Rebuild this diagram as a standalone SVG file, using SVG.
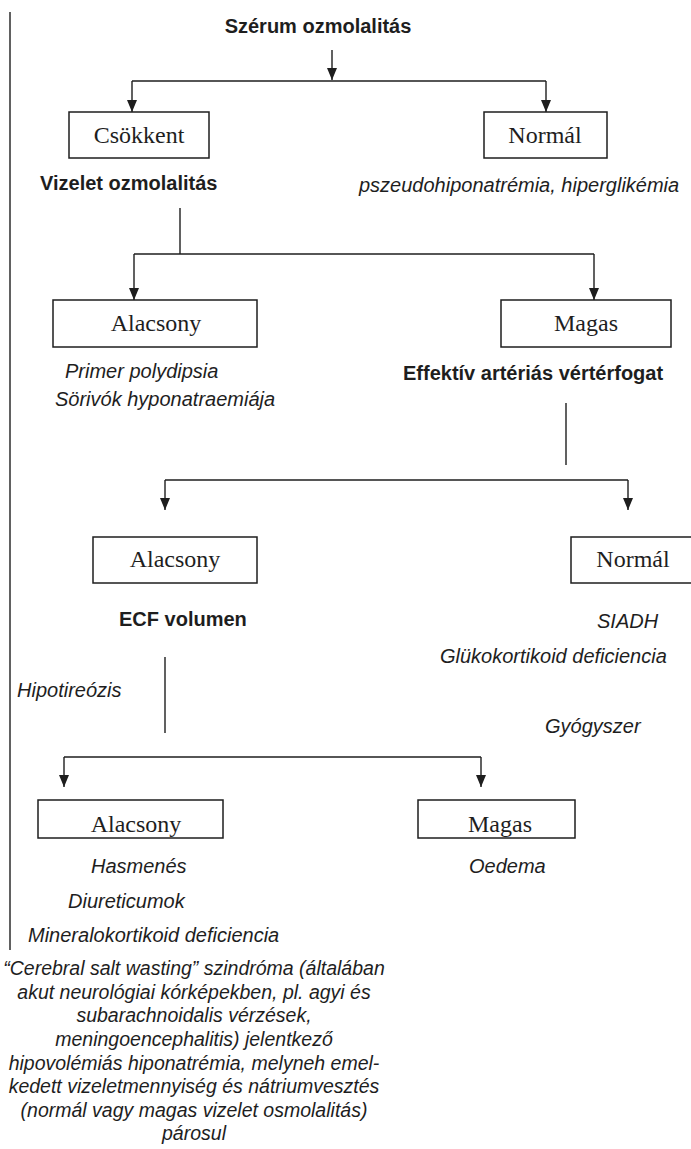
<svg xmlns="http://www.w3.org/2000/svg" width="691" height="1149" viewBox="0 0 691 1149">
<style>
.bg{fill:#ffffff}
.box{fill:#ffffff;stroke:#1e1e1e;stroke-width:1.5}
.ln{fill:none;stroke:#1e1e1e;stroke-width:1.4}
.bt{font-family:"Liberation Serif","Times New Roman",serif;font-size:24px;fill:#1e1e1e;text-anchor:middle}
.hd{font-family:"Liberation Sans",Arial,sans-serif;font-size:20px;font-weight:bold;fill:#1e1e1e}
.it{font-family:"Liberation Sans",Arial,sans-serif;font-size:20px;font-style:italic;fill:#1e1e1e}
.pa{font-family:"Liberation Sans",Arial,sans-serif;font-size:19.5px;font-style:italic;fill:#1e1e1e;text-anchor:middle}
</style>
<defs>
<marker id="arr" markerUnits="userSpaceOnUse" markerWidth="13" markerHeight="11" refX="12" refY="5" orient="auto">
<path d="M0,0 L12,5 L0,10 z" fill="#1e1e1e"/>
</marker>
</defs>
<rect class="bg" x="0" y="0" width="691" height="1149"/>

<g id="connectors">
<path class="ln" d="M10,12 V950"/>
<path class="ln" d="M332,50 V80" marker-end="url(#arr)"/>
<path class="ln" d="M132,81 H546"/>
<path class="ln" d="M132,81 V112" marker-end="url(#arr)"/>
<path class="ln" d="M546,81 V112" marker-end="url(#arr)"/>
<path class="ln" d="M180,208 V254"/>
<path class="ln" d="M134,254 H594"/>
<path class="ln" d="M134,254 V300" marker-end="url(#arr)"/>
<path class="ln" d="M594,254 V300" marker-end="url(#arr)"/>
<path class="ln" d="M566,403 V465"/>
<path class="ln" d="M165,480 H628"/>
<path class="ln" d="M165,480 V510" marker-end="url(#arr)"/>
<path class="ln" d="M628,480 V510" marker-end="url(#arr)"/>
<path class="ln" d="M165,657 V733"/>
<path class="ln" d="M64,757 H481"/>
<path class="ln" d="M64,757 V787" marker-end="url(#arr)"/>
<path class="ln" d="M481,757 V787" marker-end="url(#arr)"/>
</g>

<g id="title"><text class="hd" x="318" y="33" text-anchor="middle">Szérum ozmolalitás</text></g>

<g id="n-csokkent">
<rect class="box" x="69" y="112" width="140" height="46"/>
<text class="bt" x="139" y="143">Csökkent</text>
</g>
<g id="n-normal1">
<rect class="box" x="484" y="112" width="123" height="46"/>
<text class="bt" x="545" y="143">Normál</text>
</g>
<g id="t-vizelet"><text class="hd" x="40" y="190">Vizelet ozmolalitás</text></g>
<g id="t-pszeudo"><text class="it" x="359" y="192">pszeudohiponatrémia, hiperglikémia</text></g>

<g id="n-alacsony1">
<rect class="box" x="53" y="300" width="204" height="47"/>
<text class="bt" x="156" y="331">Alacsony</text>
</g>
<g id="n-magas1">
<rect class="box" x="501" y="300" width="170" height="47"/>
<text class="bt" x="586" y="331">Magas</text>
</g>
<g id="t-primer">
<text class="it" x="65" y="378">Primer polydipsia</text>
<text class="it" x="55" y="406">Sörivók hyponatraemiája</text>
</g>
<g id="t-effektiv"><text class="hd" x="403" y="380">Effektív artériás vértérfogat</text></g>

<g id="n-alacsony2">
<rect class="box" x="93" y="537" width="164" height="46"/>
<text class="bt" x="175" y="567">Alacsony</text>
</g>
<g id="n-normal2">
<rect class="box" x="571" y="537" width="125" height="46"/>
<text class="bt" x="633" y="567">Normál</text>
</g>
<g id="t-ecf"><text class="hd" x="119" y="626">ECF volumen</text></g>
<g id="t-siadh">
<text class="it" x="597" y="628">SIADH</text>
<text class="it" x="440" y="663">Glükokortikoid deficiencia</text>
<text class="it" x="545" y="733">Gyógyszer</text>
</g>
<g id="t-hipo"><text class="it" x="17" y="697">Hipotireózis</text></g>

<g id="n-alacsony3">
<rect class="box" x="38" y="800" width="185" height="38"/>
<text class="bt" x="136" y="832">Alacsony</text>
</g>
<g id="n-magas3">
<rect class="box" x="418" y="800" width="157" height="38"/>
<text class="bt" x="500" y="832">Magas</text>
</g>
<g id="t-low">
<text class="it" x="91" y="873">Hasmenés</text>
<text class="it" x="68" y="908">Diureticumok</text>
<text class="it" x="28" y="942">Mineralokortikoid deficiencia</text>
</g>
<g id="t-magas"><text class="it" x="469" y="873">Oedema</text></g>

<g id="t-cerebral">
<text class="pa" x="194" y="975">“Cerebral salt wasting” szindróma (általában</text>
<text class="pa" x="194" y="999">akut neurológiai kórképekben, pl. agyi és</text>
<text class="pa" x="194" y="1022">subarachnoidalis vérzések,</text>
<text class="pa" x="194" y="1046">meningoencephalitis) jelentkező</text>
<text class="pa" x="194" y="1070">hipovolémiás hiponatrémia, melyneh emel-</text>
<text class="pa" x="194" y="1093">kedett vizeletmennyiség és nátriumvesztés</text>
<text class="pa" x="194" y="1117">(normál vagy magas vizelet osmolalitás)</text>
<text class="pa" x="194" y="1140">párosul</text>
</g>
</svg>
